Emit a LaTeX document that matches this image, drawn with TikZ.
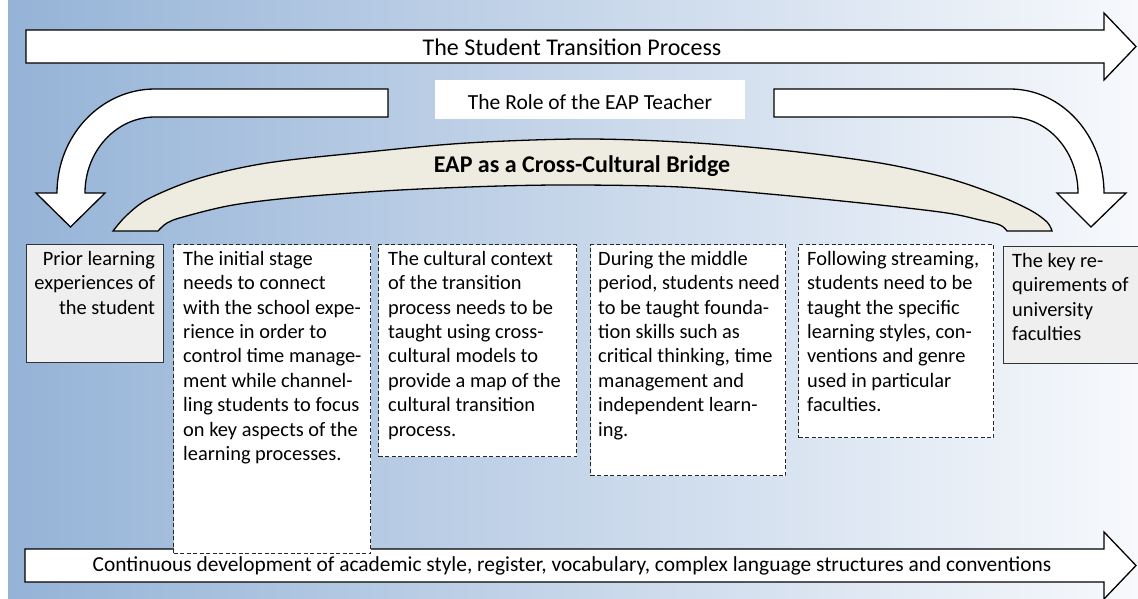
\documentclass[tikz,border=0pt]{standalone}
\usepackage{fontspec}
\setmainfont{Carlito}
\definecolor{bgleft}{HTML}{95B3D7}
\definecolor{bgright}{HTML}{F7F9FC}
\definecolor{bridgefill}{HTML}{EEECE1}
\definecolor{boxgray}{HTML}{EFEFEF}
\begin{document}
\begin{tikzpicture}[x=1pt,y=-1pt,
  blockarrow/.style={draw=black, fill=white, line width=1.3pt, line join=miter},
  bridgeshape/.style={draw=black, fill=bridgefill, line width=1.3pt},
  dbox/.style={draw=black!85, dash pattern=on 4pt off 2.5pt, fill=white, line width=1pt, inner sep=0pt, anchor=north west},
  gbox/.style={draw=black!80, fill=boxgray, line width=1.2pt, inner sep=0pt, anchor=north west},
  btext/.style={inner sep=0pt, font=\fontsize{20.4}{24.4}\selectfont, anchor=north west}
]
\useasboundingbox (0,0) rectangle (1138,598);
\shade[left color=bgleft, right color=bgright] (8,0) rectangle (1138,598);

% top arrow
\filldraw[blockarrow] (26,30) -- (1104,30) -- (1104,13) -- (1136,46.5) -- (1104,80) -- (1104,63) -- (26,63) -- cycle;
\node[inner sep=0pt, font=\fontsize{24}{28}\selectfont] (title) at (572,47.5) {The Student Transition Process};

% bottom arrow
\filldraw[blockarrow] (25,549) -- (1104,549) -- (1104,532) -- (1136,565.5) -- (1104,599) -- (1104,582) -- (25,582) -- cycle;
\node[inner sep=0pt, font=\fontsize{21.4}{25}\selectfont] (cont) at (572,566) {Continuous development of academic style, register, vocabulary, complex language structures and conventions};

% role label
\node[fill=white, minimum width=310pt, minimum height=39pt, inner sep=0pt] (role) at (590,99.5) {};
\node[inner sep=0pt, font=\fontsize{21.5}{25}\selectfont] (roletext) at (590,102) {The Role of the EAP Teacher};

% left curved arrow
\filldraw[blockarrow] (388,89) -- (155,89) .. controls (100.9,89) and (57,135.6) .. (57,193)
  -- (36,193) -- (70.5,227) -- (105,193) -- (85,193)
  .. controls (85,151) and (116.3,117) .. (155,117) -- (388,117) -- cycle;

% right curved arrow
\filldraw[blockarrow] (774,89) -- (1010,89) .. controls (1061.9,89) and (1104,135.6) .. (1104,193)
  -- (1126,193) -- (1091,227) -- (1057,193) -- (1078,193)
  .. controls (1078,151) and (1047.6,117) .. (1010,117) -- (774,117) -- cycle;

% bridge
\filldraw[bridgeshape] plot[smooth, tension=0.55] coordinates {(113,231) (127,215) (150,198) (200,178) (267,163) (367,152) (467,143) (580,139) (680,142) (780,150) (880,163) (947,178) (997,195) (1030,210) (1047,222) (1052,231)}
  -- plot[smooth, tension=0.55] coordinates {(1007,231) (1000,225) (980,220) (947,213) (880,205) (780,195) (680,187) (580,185) (500,186) (400,190) (300,197) (233,205) (183,217) (167,223) (158,231)} -- cycle;
\node[inner sep=0pt, font=\bfseries\fontsize{24}{28}\selectfont] (bridgetext) at (582,166) {EAP as a Cross-Cultural Bridge};

% side boxes
\node[gbox, minimum width=137pt, minimum height=118pt] (prior) at (26,244) {};
\node[btext, align=right, anchor=north east] (priortext) at ([xshift=-9pt,yshift=-7pt]prior.north east) {Prior learning\\experiences of\\the student};

\node[gbox, minimum width=140pt, minimum height=117pt] (keyreq) at (1003,246) {};
\node[btext, align=left] (keyreqtext) at ([xshift=9pt,yshift=-7pt]keyreq.north west) {The key re-\\quirements of\\university\\faculties};

% dashed boxes
\node[dbox, minimum width=197pt, minimum height=309pt] (b1) at (173,244) {};
\node[btext, align=left] (t1) at ([xshift=10pt,yshift=-7pt]b1.north west) {The initial stage\\needs to connect\\with the school expe-\\rience in order to\\control time manage-\\ment while channel-\\ling students to focus\\on key aspects of the\\learning processes.};

\node[dbox, minimum width=198pt, minimum height=212pt] (b2) at (378,244) {};
\node[btext, align=left] (t2) at ([xshift=10pt,yshift=-7pt]b2.north west) {The cultural context\\of the transition\\process needs to be\\taught using cross-\\cultural models to\\provide a map of the\\cultural transition\\process.};

\node[dbox, minimum width=195pt, minimum height=231pt] (b3) at (590,244) {};
\node[btext, align=left] (t3) at ([xshift=8pt,yshift=-7pt]b3.north west) {During the middle\\period, students need\\to be taught founda-\\tion skills such as\\critical thinking, time\\management and\\independent learn-\\ing.};

\node[dbox, minimum width=195pt, minimum height=193pt] (b4) at (798,244) {};
\node[btext, align=left] (t4) at ([xshift=9pt,yshift=-7pt]b4.north west) {Following streaming,\\students need to be\\taught the specific\\learning styles, con-\\ventions and genre\\used in particular\\faculties.};
\end{tikzpicture}
\end{document}
